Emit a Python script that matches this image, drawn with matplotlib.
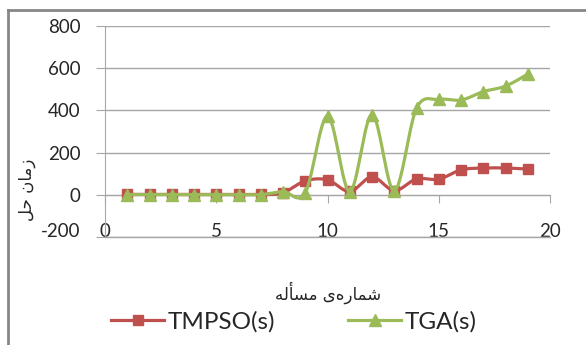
import numpy as np
import matplotlib.pyplot as plt
from matplotlib.lines import Line2D

# problem number vs. solve time (s)
problems = [1, 2, 3, 4, 5, 6, 7, 8, 9, 10, 11, 12, 13, 14, 15, 16, 17, 18, 19]
tmpso = [2, 2, 2, 2, 2, 2, 2, 10, 66, 71, 16, 85, 20, 75, 74, 118, 127, 127, 122]
tga = [1, 1, 1, 1, 1, 1, 1, 15, 10, 373, 15, 380, 19, 410, 452, 449, 489, 515, 572]

yticks = [-200, 0, 200, 400, 600, 800]
xticks = [0, 5, 10, 15, 20]

# Arabic text is given in presentation forms (visual order) since matplotlib does no shaping
xlabel = "\uFEEA\uFEDF\uFE84\uFEB4\uFEE3 \uFBFC\uFEE9\uFEAD\uFE8E\uFEE4\uFEB7"   # شماره‌ی مسأله
ylabel = "\uFEDE\uFEA3 \uFEE5\uFE8E\uFEE3\uFEAF"                                 # زمان حل

red = '#C0504D'
green = '#9BBB59'
grid_c = '#A6A6A6'
txt_c = '#262626'

plt.rcParams['font.family'] = ['Lato', 'DejaVu Sans']
plt.rcParams['axes.unicode_minus'] = False


def smooth(x, y, n=30):
    # Catmull-Rom style bezier smoothing (like a spreadsheet "smoothed line")
    x = np.asarray(x, float)
    y = np.asarray(y, float)
    px = np.concatenate([[x[0]], x, [x[-1]]])
    py = np.concatenate([[y[0]], y, [y[-1]]])
    xs, ys = [], []
    t = np.linspace(0, 1, n)
    for i in range(1, len(x)):
        p0 = np.array([px[i], py[i]])
        p3 = np.array([px[i + 1], py[i + 1]])
        c1 = p0 + (p3 - np.array([px[i - 1], py[i - 1]])) / 6
        c2 = p3 - (np.array([px[i + 2], py[i + 2]]) - p0) / 6
        b = ((1 - t) ** 3)[:, None] * p0 + (3 * (1 - t) ** 2 * t)[:, None] * c1 \
            + (3 * (1 - t) * t ** 2)[:, None] * c2 + (t ** 3)[:, None] * p3
        xs.append(b[:, 0])
        ys.append(b[:, 1])
    return np.concatenate(xs), np.concatenate(ys)


fig = plt.figure(figsize=(5.86, 3.45), dpi=100)
ax = fig.add_axes([105 / 586, 1 - 237 / 345, 445 / 586, 211 / 345])

sx, sy = smooth(problems, tmpso)
ax.plot(sx, sy, color=red, lw=2.3, zorder=3)
ax.plot(problems, tmpso, 's', color=red, ms=7.5, zorder=4)
gx, gy = smooth(problems, tga)
ax.plot(gx, gy, color=green, lw=2.3, zorder=5)
ax.plot(problems, tga, '^', color=green, ms=8, zorder=6)

ax.set_xlim(0, 20)
ax.set_ylim(-200, 800)
ax.set_yticks(yticks)
ax.set_xticks(xticks)
ax.grid(axis='y', color=grid_c, lw=1)
ax.set_axisbelow(True)

for s in ['top', 'right']:
    ax.spines[s].set_visible(False)
ax.spines['left'].set_color(grid_c)
ax.spines['bottom'].set_color(grid_c)
ax.spines['bottom'].set_position(('data', 0))
ax.axhline(-200, color=grid_c, lw=1, clip_on=False)

ax.tick_params(axis='y', direction='out', length=6.5, color=grid_c, pad=11,
               labelsize=13.5, labelcolor=txt_c)
ax.tick_params(axis='x', direction='out', length=6, color=grid_c, pad=14.5,
               labelsize=13.5, labelcolor=txt_c)
# lowest y label sits on its gridline
ax.get_yticklabels()[0].set_va('baseline')

fig.text(27 / 586, 1 - 190 / 345, ylabel, rotation=90, ha='center', va='center',
         fontsize=12, family='DejaVu Sans', color=txt_c)
fig.text(328 / 586, 1 - 293 / 345, xlabel, ha='center', va='center',
         fontsize=12, family='DejaVu Sans', color=txt_c)

handles = [Line2D([], [], color=red, lw=2.3, marker='s', ms=7.5),
           Line2D([], [], color=green, lw=2.3, marker='^', ms=8)]
fig.legend(handles, ['TMPSO(s)', 'TGA(s)'], loc='center left',
           bbox_to_anchor=(111 / 586, 1 - 322 / 345), ncol=2, frameon=False,
           fontsize=17.5, handlelength=2.2, handletextpad=0.12, columnspacing=3.0,
           borderpad=0, borderaxespad=0, labelcolor=txt_c)

# chart border (left and top edges)
fig.add_artist(Line2D([8 / 586, 8 / 586], [0, 1 - 10 / 345], color='#868686', lw=2))
fig.add_artist(Line2D([8 / 586, 1], [1 - 10 / 345, 1 - 10 / 345], color='#868686', lw=2))

fig.savefig('out.png', dpi=100)
